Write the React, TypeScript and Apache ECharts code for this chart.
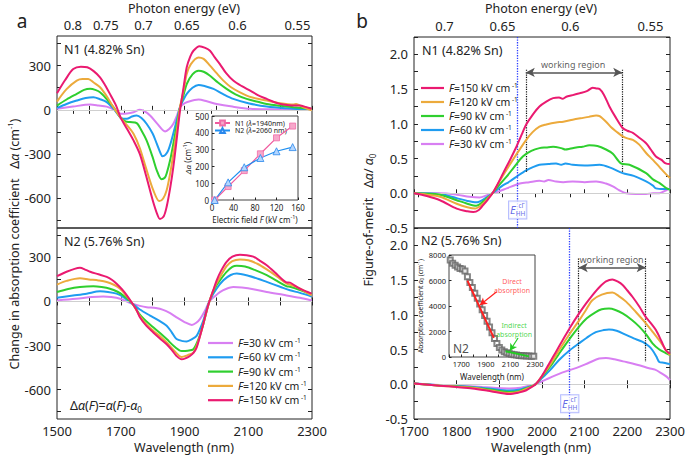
import React, { useEffect, useRef } from 'react';
import * as echarts from 'echarts';

const FONT = '"Noto Sans", "DejaVu Sans", sans-serif';
const HC = 1239.84;

const FIELD_NAMES = ['F=30', 'F=60', 'F=90', 'F=120', 'F=150'];
const FIELD_COLORS = ['#d87ff2', '#1f9cf0', '#2fcf2f', '#ecaa3c', '#ea1a70'];

const E_LEFT = [0.8, 0.75, 0.7, 0.65, 0.6, 0.55, 0.775, 0.725, 0.675, 0.625, 0.575];
const E_LEFT_LABELS = [0.8, 0.75, 0.7, 0.65, 0.6, 0.55];
const E_RIGHT = [0.7, 0.65, 0.6, 0.55, 0.725, 0.675, 0.625, 0.575];
const E_RIGHT_LABELS = [0.7, 0.65, 0.6, 0.55];
const DA_TICKS = [-750, -600, -450, -300, -150, 0, 150, 300, 450];
const DA_LABELS = [-600, -300, 0, 300];

// Panel a, N1: change in absorption coefficient (cm^-1) vs wavelength (nm)
const N1_30 = [[1500,7],[1550,22],[1604,36],[1630,30],[1656,22],[1680,0],[1700,-27],[1720,-25],[1740,-16],[1760,0],[1775,-10],[1792,-38],[1815,-95],[1839,-146],[1852,-130],[1865,-94],[1876,-40],[1886,18],[1897,40],[1907,52],[1944,70],[1970,58],[2001,40],[2050,22],[2106,7],[2200,3],[2299,0]];
const N1_60 = [[1500,13],[1530,40],[1562,63],[1590,80],[1614,85],[1635,72],[1656,52],[1680,0],[1700,-54],[1719,-61],[1735,-45],[1750,-38],[1765,-55],[1781,-94],[1800,-160],[1813,-229],[1825,-295],[1831,-315],[1840,-305],[1849,-274],[1860,-200],[1870,-117],[1878,-50],[1886,18],[1897,70],[1907,108],[1925,150],[1944,169],[1965,160],[1991,142],[2020,108],[2053,74],[2100,45],[2158,22],[2220,10],[2299,0]];
const N1_90 = [[1500,29],[1530,70],[1562,108],[1585,135],[1604,142],[1620,135],[1635,119],[1655,75],[1677,18],[1700,-54],[1715,-78],[1729,-83],[1750,-90],[1765,-140],[1781,-207],[1800,-320],[1813,-409],[1828,-470],[1838,-460],[1844,-431],[1855,-340],[1865,-229],[1876,-100],[1886,18],[1897,100],[1907,175],[1925,240],[1944,265],[1960,258],[1980,231],[2005,185],[2032,142],[2060,105],[2095,74],[2130,55],[2158,40],[2200,28],[2242,18],[2299,7]];
const N1_120 = [[1500,56],[1530,140],[1562,198],[1580,209],[1598,209],[1615,185],[1635,153],[1655,95],[1677,18],[1700,-54],[1720,-105],[1740,-162],[1760,-260],[1780,-400],[1802,-544],[1821,-618],[1833,-600],[1844,-544],[1855,-430],[1865,-297],[1876,-140],[1886,18],[1897,130],[1907,243],[1920,310],[1944,355],[1960,345],[1980,299],[2000,250],[2022,198],[2045,155],[2074,119],[2110,85],[2158,63],[2200,45],[2242,36],[2250,40],[2270,20],[2299,-4]];
const N1_150 = [[1500,112],[1525,200],[1551,276],[1575,292],[1595,288],[1615,262],[1635,220],[1650,170],[1666,108],[1685,30],[1700,-54],[1720,-130],[1740,-207],[1760,-300],[1780,-450],[1800,-610],[1815,-710],[1823,-739],[1835,-720],[1844,-656],[1855,-530],[1865,-386],[1876,-190],[1886,-4],[1897,150],[1907,288],[1918,360],[1928,400],[1947,431],[1965,420],[1980,400],[1995,355],[2011,310],[2030,250],[2053,198],[2080,160],[2106,130],[2130,100],[2158,74],[2185,50],[2210,36],[2235,30],[2262,29],[2280,20],[2299,7]];

// Panel a, N2
const N2_30 = [[1500,7],[1560,18],[1610,30],[1645,34],[1670,30],[1698,18],[1737,-16],[1760,-30],[1781,-39],[1810,-45],[1833,-57],[1855,-80],[1875,-108],[1900,-140],[1923,-160],[1937,-145],[1949,-119],[1965,-60],[1978,0],[1995,35],[2011,64],[2030,85],[2053,98],[2080,95],[2120,82],[2158,64],[2210,45],[2262,25],[2299,7]];
const N2_60 = [[1500,25],[1550,40],[1593,53],[1635,69],[1660,65],[1687,53],[1712,25],[1737,-16],[1760,-55],[1792,-96],[1820,-130],[1844,-165],[1860,-210],[1875,-256],[1895,-270],[1907,-272],[1925,-255],[1938,-234],[1950,-180],[1959,-130],[1978,0],[2000,85],[2022,144],[2045,180],[2064,190],[2100,175],[2130,155],[2158,133],[2200,100],[2231,76],[2260,60],[2299,34]];
const N2_90 = [[1500,64],[1535,85],[1572,98],[1614,103],[1640,98],[1666,87],[1690,66],[1708,41],[1737,-16],[1760,-90],[1780,-135],[1802,-176],[1825,-218],[1844,-256],[1870,-310],[1891,-337],[1910,-335],[1928,-325],[1945,-250],[1959,-153],[1978,0],[1995,90],[2010,140],[2032,201],[2050,235],[2064,243],[2090,238],[2120,215],[2158,179],[2190,140],[2221,103],[2231,100],[2260,80],[2299,48]];
const N2_120 = [[1500,115],[1530,140],[1572,158],[1600,150],[1630,143],[1656,133],[1680,112],[1698,87],[1718,38],[1737,-16],[1760,-100],[1780,-155],[1802,-199],[1825,-240],[1844,-279],[1870,-340],[1891,-378],[1910,-365],[1928,-348],[1945,-260],[1959,-153],[1978,0],[1995,100],[2010,160],[2032,240],[2050,275],[2074,286],[2100,280],[2130,255],[2158,218],[2190,170],[2221,121],[2231,115],[2260,90],[2299,41]];
const N2_150 = [[1500,172],[1530,202],[1555,222],[1572,229],[1590,215],[1604,202],[1630,185],[1656,167],[1672,148],[1687,121],[1705,80],[1719,41],[1737,-16],[1750,-60],[1760,-108],[1780,-165],[1802,-211],[1822,-250],[1844,-291],[1860,-330],[1875,-371],[1891,-394],[1905,-385],[1917,-371],[1928,-350],[1938,-314],[1948,-240],[1959,-153],[1968,-75],[1978,0],[1990,75],[2001,144],[2015,210],[2032,270],[2050,305],[2074,318],[2095,315],[2116,305],[2135,280],[2158,247],[2185,195],[2210,144],[2220,130],[2231,128],[2245,110],[2262,87],[2280,70],[2299,53]];

// Panel b, N1: figure of merit
const F1_30 = [[1700,0],[1761,0],[1800,-0.02],[1830,-0.05],[1854,-0.06],[1870,-0.03],[1884,0],[1900,0.03],[1917,0.07],[1948,0.14],[1970,0.16],[1994,0.18],[2005,0.17],[2015,0.19],[2033,0.17],[2050,0.16],[2072,0.17],[2100,0.16],[2127,0.17],[2150,0.14],[2166,0.1],[2182,0.04],[2197,0],[2220,-0.01],[2244,-0.01],[2260,0],[2275,0],[2290,0.04],[2300,0.07]];
const F1_60 = [[1700,0],[1761,-0.01],[1800,-0.07],[1825,-0.11],[1846,-0.13],[1865,-0.08],[1884,0],[1905,0.1],[1924,0.17],[1945,0.26],[1963,0.33],[1980,0.38],[1994,0.41],[2015,0.42],[2033,0.43],[2045,0.41],[2055,0.43],[2072,0.41],[2100,0.4],[2135,0.41],[2160,0.37],[2189,0.29],[2215,0.25],[2244,0.17],[2260,0.11],[2267,0.07],[2285,0.06],[2300,0.06]];
const F1_90 = [[1700,0],[1761,-0.02],[1800,-0.1],[1825,-0.15],[1846,-0.18],[1862,-0.12],[1873,-0.06],[1884,0],[1900,0.12],[1917,0.24],[1935,0.38],[1955,0.53],[1975,0.61],[1994,0.65],[2010,0.66],[2026,0.67],[2045,0.65],[2055,0.63],[2065,0.64],[2080,0.66],[2095,0.67],[2111,0.69],[2130,0.68],[2150,0.63],[2166,0.57],[2185,0.43],[2205,0.41],[2244,0.29],[2260,0.2],[2275,0.15],[2290,0.08],[2300,0.05]];
const F1_120 = [[1700,0],[1730,-0.02],[1761,-0.05],[1800,-0.15],[1825,-0.2],[1843,-0.22],[1860,-0.16],[1872,-0.08],[1884,0],[1900,0.17],[1917,0.34],[1940,0.56],[1963,0.77],[1978,0.88],[1994,0.96],[2010,0.99],[2033,1.02],[2050,1.03],[2072,1.06],[2090,1.08],[2110,1.1],[2127,1.12],[2135,1.11],[2150,1.03],[2162,0.95],[2174,0.89],[2189,0.82],[2200,0.79],[2213,0.77],[2228,0.7],[2244,0.58],[2260,0.48],[2275,0.38],[2290,0.28],[2300,0.22]];
const F1_150 = [[1700,0],[1730,-0.04],[1761,-0.1],[1800,-0.22],[1825,-0.26],[1839,-0.27],[1852,-0.24],[1862,-0.17],[1873,-0.09],[1884,0],[1896,0.13],[1909,0.29],[1925,0.48],[1940,0.67],[1952,0.84],[1963,0.99],[1978,1.13],[1994,1.25],[2010,1.32],[2026,1.37],[2040,1.38],[2048,1.36],[2057,1.39],[2070,1.41],[2088,1.44],[2105,1.47],[2119,1.52],[2128,1.51],[2135,1.5],[2145,1.42],[2158,1.25],[2172,1.1],[2189,0.94],[2200,0.9],[2213,0.87],[2228,0.8],[2244,0.72],[2255,0.63],[2267,0.53],[2280,0.48],[2290,0.43],[2300,0.42]];

// Panel b, N2
const F2_30 = [[1700,0.01],[1760,-0.01],[1800,-0.02],[1860,-0.04],[1923,-0.06],[1950,-0.05],[1970,-0.02],[1985,0],[2010,0.07],[2040,0.15],[2063,0.2],[2087,0.25],[2110,0.31],[2134,0.37],[2150,0.38],[2170,0.36],[2190,0.33],[2212,0.3],[2230,0.27],[2251,0.23],[2265,0.21],[2282,0.15],[2292,0.11],[2300,0.06]];
const F2_60 = [[1700,0.01],[1760,-0.015],[1800,-0.025],[1837,-0.04],[1880,-0.065],[1923,-0.09],[1945,-0.08],[1962,-0.05],[1985,0],[2000,0.09],[2020,0.21],[2040,0.35],[2063,0.48],[2087,0.59],[2105,0.67],[2126,0.75],[2145,0.78],[2157,0.79],[2175,0.77],[2197,0.71],[2215,0.66],[2236,0.61],[2250,0.55],[2259,0.49],[2268,0.4],[2275,0.32],[2285,0.31],[2293,0.3],[2300,0.29]];
const F2_90 = [[1700,0.01],[1760,-0.02],[1800,-0.03],[1837,-0.045],[1880,-0.08],[1923,-0.11],[1945,-0.1],[1962,-0.06],[1985,0],[2000,0.11],[2020,0.26],[2040,0.44],[2063,0.64],[2087,0.83],[2105,0.95],[2126,1.04],[2140,1.08],[2157,1.09],[2172,1.07],[2189,1.02],[2210,0.93],[2228,0.83],[2245,0.71],[2259,0.59],[2275,0.5],[2290,0.45],[2300,0.42]];
const F2_120 = [[1700,0.01],[1760,-0.02],[1800,-0.035],[1837,-0.05],[1880,-0.09],[1923,-0.125],[1945,-0.11],[1962,-0.07],[1985,0],[2000,0.12],[2020,0.29],[2040,0.49],[2063,0.71],[2087,0.92],[2103,1.07],[2118,1.21],[2140,1.29],[2165,1.32],[2180,1.27],[2197,1.19],[2220,1.04],[2243,0.88],[2260,0.75],[2275,0.63],[2290,0.5],[2300,0.42]];
const F2_150 = [[1700,0.01],[1760,-0.02],[1800,-0.04],[1837,-0.06],[1880,-0.1],[1923,-0.14],[1945,-0.12],[1962,-0.09],[1975,-0.04],[1985,0],[2000,0.12],[2017,0.3],[2033,0.47],[2048,0.63],[2068,0.84],[2087,1.02],[2103,1.16],[2118,1.28],[2135,1.4],[2150,1.48],[2165,1.51],[2177,1.48],[2189,1.43],[2200,1.35],[2212,1.26],[2228,1.12],[2243,0.97],[2255,0.88],[2267,0.78],[2280,0.62],[2290,0.49],[2300,0.44]];

// Inset a: delta alpha vs electric field
const INSET_FIELD = [5, 30, 60, 90, 120, 150];
const INSET_N1 = [0, 80, 175, 275, 370, 440];
const INSET_N2 = [0, 105, 195, 250, 290, 315];

// Inset b: absorption coefficient of N2
const ABS_WL = [1610,1630,1650,1670,1690,1710,1730,1750,1770,1790,1810,1830,1850,1870,1890,1910,1930,1950,1970,1990,2010,2030,2050,2070,2090,2110,2130,2150,2170,2190,2210,2230,2250,2270,2290];
const ABS_VAL = [7600,7350,7200,7050,6950,6900,6750,6300,5850,5450,5000,4600,4150,3700,3250,2800,2350,1900,1450,1050,750,550,420,330,270,220,180,150,120,100,90,80,70,60,55];
const DIRECT_FIT = [[1750, 5990], [1965, 1500]];
const INDIRECT_FIT = [[2060, 450], [2250, 50]];

const PANEL_A_N1 = [N1_30, N1_60, N1_90, N1_120, N1_150];
const PANEL_A_N2 = [N2_30, N2_60, N2_90, N2_120, N2_150];
const PANEL_B_N1 = [F1_30, F1_60, F1_90, F1_120, F1_150];
const PANEL_B_N2 = [F2_30, F2_60, F2_90, F2_120, F2_150];

const INK = '#222';
const BLUE_E = '#3a44e0';
const TICK_FS = 13;
const TITLE_FS = 12.5;

const tick = (len: number, extra: any = {}) => ({ show: true, inside: true, length: len, lineStyle: { color: INK, width: 1 }, ...extra });
const common = { axisLine: { show: false }, splitLine: { show: false } };
const lbl = (extra: any = {}) => ({ color: INK, fontSize: TICK_FS, fontFamily: FONT, ...extra });
const fmtE = (v: number) => String(parseFloat((HC / v).toFixed(3)));
const plain = (v: number) => String(v);

const gridBase = { show: true, borderColor: INK, borderWidth: 1, backgroundColor: 'transparent', containLabel: false, outerBoundsMode: 'none' };

function buildOption() {
  const xAxis: any[] = [
    { type: 'value', gridIndex: 0, position: 'bottom', min: 1500, max: 2300, interval: 100, axisTick: tick(4), axisLabel: { show: false }, ...common },
    { type: 'value', gridIndex: 0, position: 'top', min: 1500, max: 2300, axisTick: tick(4, { customValues: E_LEFT.map(e => HC / e) }), axisLabel: lbl({ customValues: E_LEFT_LABELS.map(e => HC / e), formatter: fmtE, margin: 5 }), ...common },
    { type: 'value', gridIndex: 1, position: 'bottom', min: 1500, max: 2300, interval: 100, axisTick: tick(4), axisLabel: lbl({ margin: 5, formatter: (v: number) => ((v - 1500) % 200 === 0 ? String(v) : '') }), ...common },
    { type: 'value', gridIndex: 1, position: 'top', min: 1500, max: 2300, interval: 100, axisTick: tick(4), axisLabel: { show: false }, ...common },
    { type: 'value', gridIndex: 2, position: 'bottom', min: 1700, max: 2300, interval: 100, axisTick: tick(4), axisLabel: { show: false }, ...common },
    { type: 'value', gridIndex: 2, position: 'top', min: 1700, max: 2300, axisTick: tick(4, { customValues: E_RIGHT.map(e => HC / e) }), axisLabel: lbl({ customValues: E_RIGHT_LABELS.map(e => HC / e), formatter: fmtE, margin: 5 }), ...common },
    { type: 'value', gridIndex: 3, position: 'bottom', min: 1700, max: 2300, interval: 100, axisTick: tick(4), axisLabel: lbl({ margin: 5, formatter: plain }), ...common },
    { type: 'value', gridIndex: 3, position: 'top', min: 1700, max: 2300, interval: 100, axisTick: tick(4), axisLabel: { show: false }, ...common },
    { type: 'value', gridIndex: 4, position: 'bottom', min: 0, max: 160, interval: 40, axisTick: tick(2.5), axisLabel: lbl({ fontSize: 8, margin: 3 }),
      name: '{n|Electric field }{i|F}{n| (kV cm}{s|-1}{n|)}', nameLocation: 'middle', nameGap: 14,
      nameTextStyle: { rich: { n: { fontSize: 8, fontFamily: FONT, color: INK, lineHeight: 10 }, i: { fontSize: 8, fontFamily: FONT, fontStyle: 'italic', color: INK, lineHeight: 10 }, s: { fontSize: 5.5, fontFamily: FONT, color: INK, verticalAlign: 'top', lineHeight: 6 } } }, ...common },
    { type: 'value', gridIndex: 5, position: 'bottom', min: 1600, max: 2300, interval: 100, axisTick: tick(2.5), axisLabel: lbl({ fontSize: 7.5, margin: 3, formatter: (v: number) => ((v - 1700) % 200 === 0 ? String(v) : '') }),
      name: 'Wavelength (nm)', nameLocation: 'middle', nameGap: 15, nameTextStyle: { fontSize: 8, fontFamily: FONT, color: INK }, ...common },
  ];

  const fmtB = (v: number) => (Math.abs(v * 2 - Math.round(v * 2)) < 1e-6 ? v.toFixed(1) : '');
  const yA = (grid: number, pos: string, labels: boolean) => ({
    type: 'value', gridIndex: grid, position: pos, min: -800, max: 500,
    axisTick: tick(4, { customValues: DA_TICKS }),
    axisLabel: labels ? lbl({ customValues: DA_LABELS, formatter: plain, margin: 6 }) : { show: false }, ...common,
  });
  const yB = (grid: number, pos: string, labels: boolean) => ({
    type: 'value', gridIndex: grid, position: pos, min: -0.5, max: 2.25, interval: 0.25,
    axisTick: tick(4), axisLabel: labels ? lbl({ formatter: fmtB, margin: 6 }) : { show: false }, ...common,
  });
  const yAxis: any[] = [
    yA(0, 'left', true), yA(0, 'right', false), yA(1, 'left', true), yA(1, 'right', false),
    yB(2, 'left', true), yB(2, 'right', false), yB(3, 'left', true), yB(3, 'right', false),
    { type: 'value', gridIndex: 4, position: 'left', min: 0, max: 500, interval: 100, axisTick: tick(2.5), axisLabel: lbl({ fontSize: 8, margin: 3 }),
      name: '{i|Δα}{n| (cm}{s|-1}{n|)}', nameLocation: 'middle', nameGap: 17, nameRotate: 90,
      nameTextStyle: { rich: { n: { fontSize: 8, fontFamily: FONT, color: INK, lineHeight: 10 }, i: { fontSize: 8, fontFamily: FONT, fontStyle: 'italic', color: INK, lineHeight: 10 }, s: { fontSize: 5.5, fontFamily: FONT, color: INK, verticalAlign: 'top', lineHeight: 6 } } }, ...common },
    { type: 'value', gridIndex: 5, position: 'left', min: 0, max: 8000, interval: 2000, axisTick: tick(2.5), axisLabel: lbl({ fontSize: 7.5, margin: 3, formatter: plain }),
      name: '{n|Absorption coefficient }{i|α}{b|0}{n| (cm}{s|-1}{n|)}', nameLocation: 'middle', nameGap: 21, nameRotate: 90,
      nameTextStyle: { rich: { n: { fontSize: 6.5, fontFamily: FONT, color: INK, lineHeight: 9 }, i: { fontSize: 6.5, fontFamily: FONT, fontStyle: 'italic', color: INK, lineHeight: 9 }, s: { fontSize: 4.5, fontFamily: FONT, color: INK, verticalAlign: 'top', lineHeight: 5 }, b: { fontSize: 4.5, fontFamily: FONT, color: INK, verticalAlign: 'bottom', lineHeight: 5 } } }, ...common },
  ];

  const zeroLine = { yAxis: 0, lineStyle: { color: '#cfcfcf', type: 'solid', width: 1 } };
  const dotted = (x: number, y1: number, y2: number) => [
    { coord: [x, y1], symbol: 'none', lineStyle: { color: '#111', type: 'dotted', width: 1.2 } },
    { coord: [x, y2], symbol: 'none' },
  ];
  const arrow = (x1: number, x2: number, y: number) => [
    { coord: [x1, y], symbol: 'arrow', symbolSize: [7, 9], lineStyle: { color: '#555', type: 'solid', width: 1.6 } },
    { coord: [x2, y], symbol: 'arrow', symbolSize: [7, 9] },
  ];

  const mk = (extra: any[]) => ({
    silent: true, symbol: ['none', 'none'], label: { show: false }, animation: false,
    data: [zeroLine, ...extra],
  });

  const mainSeries = (sets: number[][][], xi: number, yi: number, extraMarks: any[]) =>
    sets.map((d, i) => ({
      type: 'line', name: FIELD_NAMES[i], xAxisIndex: xi, yAxisIndex: yi, data: d,
      showSymbol: false, symbol: 'none', smooth: 0.3,
      lineStyle: { color: FIELD_COLORS[i], width: 2 }, itemStyle: { color: FIELD_COLORS[i] },
      z: 3 + i, markLine: i === 0 ? mk(extraMarks) : undefined,
    }));

  const eLabel = (x: number, y: number) => [
    {
      value: [x, y],
      label: {
        show: true, position: 'inside', formatter: '{e|E}{b|HH}',
        backgroundColor: '#fff', borderColor: '#a2abff', borderWidth: 1, padding: [1, 1, 1, 1],
        rich: {
          e: { fontSize: 11, fontFamily: FONT, fontStyle: 'italic', color: BLUE_E, lineHeight: 15 },
          b: { fontSize: 6.5, fontFamily: FONT, color: BLUE_E, verticalAlign: 'bottom', lineHeight: 8 },
        },
      },
    },
    {
      value: [x, y],
      label: { show: true, position: 'inside', formatter: 'cΓ', fontSize: 6.5, fontFamily: FONT, color: BLUE_E, offset: [4, -4] },
    },
  ];

  const annotSeries = (xi: number, yi: number, data: any[]) => ({
    type: 'scatter', xAxisIndex: xi, yAxisIndex: yi, symbolSize: 1, itemStyle: { color: 'rgba(0,0,0,0)' },
    silent: true, z: 12, data,
  });

  const wr = (x: number, y: number) => ({
    value: [x, y], label: { show: true, position: 'inside', formatter: 'working region', fontSize: 9, fontFamily: FONT, color: '#333' },
  });

  const series: any[] = [
    ...mainSeries(PANEL_A_N1, 0, 0, []),
    ...mainSeries(PANEL_A_N2, 2, 2, []),
    ...mainSeries(PANEL_B_N1, 4, 4, [
      { xAxis: 1941, lineStyle: { color: '#2a3cff', type: 'dotted', width: 1.3 } },
      dotted(1962, 1.78, 0.31), dotted(2188, 1.78, 0.3), arrow(1962, 2188, 1.74),
    ]),
    ...mainSeries(PANEL_B_N2, 6, 6, [
      { xAxis: 2065, lineStyle: { color: '#2a3cff', type: 'dotted', width: 1.3 } },
      dotted(2086, 1.81, 0.32), dotted(2243, 1.81, 0.32), arrow(2086, 2243, 1.68),
    ]),
    annotSeries(4, 4, [wr(2073, 1.86), ...eLabel(1943, -0.24)]),
    annotSeries(6, 6, [wr(2163, 1.79), ...eLabel(2065, -0.28)]),
    // Inset a
    {
      type: 'line', name: 'N1', xAxisIndex: 8, yAxisIndex: 8, data: INSET_FIELD.map((f, i) => [f, INSET_N1[i]]),
      symbol: 'rect', symbolSize: 6, lineStyle: { color: '#f05a9e', width: 1.2 }, itemStyle: { color: '#f7a8cb', borderColor: '#f06ca8', borderWidth: 0.8 }, z: 5,
    },
    {
      type: 'line', name: 'N2', xAxisIndex: 8, yAxisIndex: 8, data: INSET_FIELD.map((f, i) => [f, INSET_N2[i]]),
      symbol: 'triangle', symbolSize: 7, lineStyle: { color: '#1f8ff0', width: 1.2 }, itemStyle: { color: '#b3d6ff', borderColor: '#2a88ec', borderWidth: 0.8 }, z: 5,
    },
    // Inset b
    {
      type: 'scatter', name: 'abs', xAxisIndex: 9, yAxisIndex: 9, data: ABS_WL.map((w, i) => [w, ABS_VAL[i]]),
      symbol: 'emptyRect', symbolSize: 5, itemStyle: { color: '#666', borderWidth: 0.8 }, z: 4,
    },
    {
      type: 'line', name: 'direct', xAxisIndex: 9, yAxisIndex: 9, data: DIRECT_FIT, symbol: 'none',
      lineStyle: { color: '#ff2020', width: 2 }, z: 5,
      markLine: {
        silent: true, symbol: ['none', 'none'], label: { show: false },
        data: [[{ coord: [1988, 5120], symbol: 'none', lineStyle: { color: '#ff2020', width: 1.2, type: 'solid' } }, { coord: [1852, 4080], symbol: 'arrow', symbolSize: [6, 7] }]],
      },
    },
    {
      type: 'line', name: 'indirect', xAxisIndex: 9, yAxisIndex: 9, data: INDIRECT_FIT, symbol: 'none',
      lineStyle: { color: '#22cc22', width: 2 }, z: 5,
      markLine: {
        silent: true, symbol: ['none', 'none'], label: { show: false },
        data: [[{ coord: [2162, 1490], symbol: 'none', lineStyle: { color: '#22cc22', width: 1.2, type: 'solid' } }, { coord: [2096, 490], symbol: 'arrow', symbolSize: [6, 7] }]],
      },
    },
    annotSeries(9, 9, [
      { value: [2113, 5550], label: { show: true, position: 'inside', formatter: 'Direct\nabsorption', fontSize: 7, lineHeight: 9, fontFamily: FONT, color: '#ff3030' } },
      { value: [2130, 2150], label: { show: true, position: 'inside', formatter: 'Indirect\nabsorption', fontSize: 7, lineHeight: 9, fontFamily: FONT, color: '#22cc22' } },
      { value: [1612, 700], label: { show: true, position: 'right', distance: 2, formatter: 'N2', fontSize: 12, fontFamily: FONT, color: INK } },
    ]),
  ];

  const legendRich = {
    i: { fontSize: 10.5, fontFamily: FONT, fontStyle: 'italic', color: INK, lineHeight: 12 },
    n: { fontSize: 10.5, fontFamily: FONT, color: INK, lineHeight: 12 },
    s: { fontSize: 6.5, fontFamily: FONT, color: INK, verticalAlign: 'top', lineHeight: 6 },
  };
  const legendFmt = (name: string) => `{i|F}{n|${name.slice(1)} kV cm}{s| -1}`;

  const legend: any[] = [
    {
      orient: 'vertical', left: 208, top: 337, padding: 0, icon: 'rect', itemWidth: 25, itemHeight: 2.2, itemGap: 2.8,
      data: FIELD_NAMES, formatter: legendFmt, textStyle: { rich: legendRich }, selectedMode: false,
    },
    {
      orient: 'vertical', left: 421, top: 82, padding: 0, icon: 'rect', itemWidth: 23, itemHeight: 2.2, itemGap: 2.5,
      data: [...FIELD_NAMES].reverse(), formatter: legendFmt, textStyle: { rich: legendRich }, selectedMode: false,
    },
    {
      orient: 'vertical', left: 214, top: 119.5, padding: 0, itemWidth: 15, itemHeight: 6, itemGap: 0.5,
      data: ['N1', 'N2'], selectedMode: false,
      formatter: (n: string) => (n === 'N1' ? '{n|N1 (}{i|λ}{n|=1940nm)}' : '{n|N2 (}{i|λ}{n|=2060 nm)}'),
      textStyle: { rich: { n: { fontSize: 7, fontFamily: FONT, color: INK, lineHeight: 7 }, i: { fontSize: 7, fontFamily: FONT, fontStyle: 'italic', color: INK, lineHeight: 7 } } },
    },
  ];

  const tStyle = (text: string, size: number, align = 'center', extra: any = {}) => ({
    text, fontSize: size, fontFamily: FONT, fill: INK, align, verticalAlign: 'middle', ...extra,
  });
  const titleRich = (size: number) => ({
    n: { fontSize: size, fontFamily: FONT, fill: INK, lineHeight: size + 4 },
    i: { fontSize: size, fontFamily: FONT, fontStyle: 'italic', fill: INK, lineHeight: size + 4 },
    s: { fontSize: size * 0.6, fontFamily: FONT, fill: INK, verticalAlign: 'top', lineHeight: size * 0.6 },
    b: { fontSize: size * 0.65, fontFamily: FONT, fill: INK, verticalAlign: 'bottom', lineHeight: size * 0.65 },
  });

  const graphic: any[] = [
    { type: 'text', x: 22, y: 21, style: tStyle('a', 19) },
    { type: 'text', x: 362, y: 21, style: tStyle('b', 19) },
    { type: 'text', x: 184, y: 8, style: tStyle('Photon energy (eV)', TITLE_FS) },
    { type: 'text', x: 541, y: 8, style: tStyle('Photon energy (eV)', TITLE_FS) },
    { type: 'text', x: 184, y: 447, style: tStyle('Wavelength (nm)', TITLE_FS) },
    { type: 'text', x: 541, y: 447, style: tStyle('Wavelength (nm)', TITLE_FS) },
    { type: 'text', x: 64, y: 49, style: tStyle('N1 (4.82% Sn)', TITLE_FS, 'left') },
    { type: 'text', x: 64, y: 241, style: tStyle('N2 (5.76% Sn)', TITLE_FS, 'left') },
    { type: 'text', x: 422, y: 50, style: tStyle('N1 (4.82% Sn)', TITLE_FS, 'left') },
    { type: 'text', x: 421, y: 240, style: tStyle('N2 (5.76% Sn)', TITLE_FS, 'left') },
    {
      type: 'text', x: 70, y: 405,
      style: tStyle('{n|Δ}{i|α}{n|(}{i|F}{n|)=}{i|α}{n|(}{i|F}{n|)-}{i|α}{b|0}', TITLE_FS, 'left', { rich: titleRich(TITLE_FS) }),
    },
    {
      type: 'text', x: 14, y: 244, rotation: Math.PI / 2,
      style: tStyle('{n|Change in absorption coefficient   Δ}{i|α}{n| (cm}{s|-1}{n|)}', TITLE_FS, 'center', { rich: titleRich(TITLE_FS) }),
    },
    {
      type: 'text', x: 368, y: 220, rotation: Math.PI / 2,
      style: tStyle('{n|Figure-of-merit   Δ}{i|α}{n|/ }{i|α}{b|0}', TITLE_FS, 'center', { rich: titleRich(TITLE_FS) }),
    },
  ];

  return {
    animation: false,
    backgroundColor: '#fff',
    textStyle: { fontFamily: FONT },
    grid: [
      { ...gridBase, left: 57, top: 36, width: 255, height: 192 },
      { ...gridBase, left: 57, top: 228, width: 255, height: 191 },
      { ...gridBase, left: 414, top: 37, width: 256, height: 191 },
      { ...gridBase, left: 414, top: 228, width: 256, height: 191 },
      { ...gridBase, left: 212, top: 116, width: 86, height: 84, backgroundColor: '#fff', borderColor: '#444' },
      { ...gridBase, left: 449, top: 255, width: 86, height: 102, backgroundColor: '#fff', borderColor: '#444' },
    ],
    xAxis, yAxis, series, legend, graphic,
  };
}

export default function App() {
  const ref = useRef<HTMLDivElement>(null);
  useEffect(() => {
    document.body.style.margin = '0';
    if (!ref.current) return;
    const chart = echarts.init(ref.current, undefined, { renderer: 'svg' });
    chart.setOption(buildOption() as any);
    return () => chart.dispose();
  }, []);
  return <div ref={ref} style={{ width: 685, height: 459 }} />;
}
